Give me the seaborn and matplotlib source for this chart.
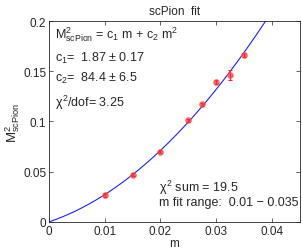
import numpy as np
import pandas as pd
import matplotlib
matplotlib.use("Agg")
import matplotlib.pyplot as plt
import seaborn as sns

m_vals = [0.01, 0.015, 0.02, 0.025, 0.0275, 0.03, 0.0325, 0.035]
msq_vals = [0.027, 0.047, 0.070, 0.101, 0.117, 0.139, 0.146, 0.166]
msq_err = [0.002, 0.0015, 0.0015, 0.0015, 0.0015, 0.002, 0.005, 0.002]
c1 = 1.87
c2 = 84.4
x_ticks = [0, 0.01, 0.02, 0.03, 0.04]
x_tick_labels = ["0", "0.01", "0.02", "0.03", "0.04"]
y_ticks = [0, 0.05, 0.1, 0.15, 0.2]
y_tick_labels = ["0", "0.05", "0.1", "0.15", "0.2"]

sns.set_style("ticks")
plt.rcParams['font.family'] = ['Liberation Sans', 'DejaVu Sans']
plt.rcParams['mathtext.fontset'] = 'custom'
plt.rcParams['mathtext.rm'] = 'Liberation Sans'
plt.rcParams['mathtext.it'] = 'Liberation Sans'

fig = plt.figure(figsize=(3.02, 2.51), dpi=100)
ax = fig.add_axes([0.162, 0.112, 0.831, 0.8])

mgrid = np.linspace(0, 0.045, 300)
curve = pd.DataFrame({"m": mgrid, "y": c1 * mgrid + c2 * mgrid ** 2})
sns.lineplot(data=curve, x="m", y="y", ax=ax, color="#2020ff", linewidth=0.8)

df = pd.DataFrame({"m": m_vals, "y": msq_vals, "e": msq_err})
ax.errorbar(df["m"], df["y"], yerr=df["e"], fmt="none", ecolor="#ff2020",
            elinewidth=0.8, capsize=1.5, capthick=0.8, zorder=3)
sns.scatterplot(data=df, x="m", y="y", ax=ax, color="#ff3030", s=18,
                edgecolor="#ff6060", linewidth=0.5, alpha=0.75, zorder=4)

ax.set_xlim(0, 0.045)
ax.set_ylim(0, 0.2)
ax.set_xticks(x_ticks)
ax.set_xticklabels(x_tick_labels)
ax.set_yticks(y_ticks)
ax.set_yticklabels(y_tick_labels)
ax.tick_params(direction="in", top=True, right=True, labelsize=8.5, length=3,
               width=0.5, pad=2)
for s in ax.spines.values():
    s.set_linewidth(0.6)
ax.set_xlabel("m", fontsize=8.5, labelpad=0)
ax.set_ylabel(r"M$^2_{\rm scPion}$", fontsize=9.5, labelpad=1)
ax.set_title("scPion  fit", fontsize=8.5, pad=5)

fs = 9
ax.text(0.025, 0.935, r"M$^2_{\rm scPion}$ = c$_1$ m + c$_2$ m$^2$", transform=ax.transAxes, fontsize=fs, va="center")
ax.text(0.025, 0.82, r"c$_1$=  1.87 ± 0.17", transform=ax.transAxes, fontsize=fs, va="center")
ax.text(0.025, 0.72, r"c$_2$=  84.4 ± 6.5", transform=ax.transAxes, fontsize=fs, va="center")
ax.text(0.025, 0.60, r"$\chi^2$/dof= 3.25", transform=ax.transAxes, fontsize=fs, va="center")
ax.text(0.44, 0.174, r"$\chi^2$ sum = 19.5", transform=ax.transAxes, fontsize=fs, va="center")
ax.text(0.44, 0.10, "m fit range:  0.01 \u2212 0.035", transform=ax.transAxes, fontsize=fs, va="center")

fig.savefig("out.png", dpi=100)
